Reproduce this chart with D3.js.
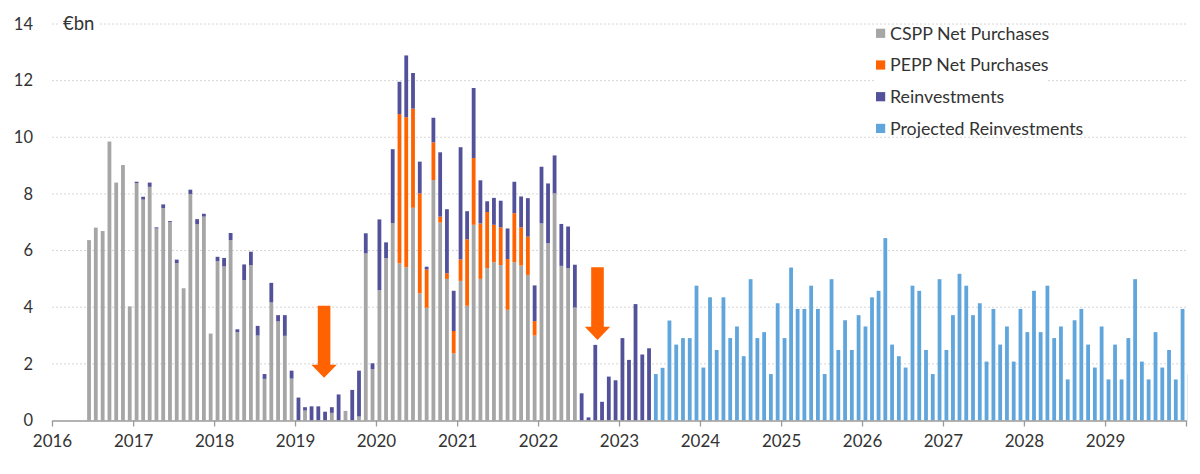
<!DOCTYPE html>
<html>
<head>
<meta charset="utf-8">
<script src="https://cdn.jsdelivr.net/npm/d3@7"></script>
<style>
  body { margin: 0; background: #fff; }
  svg { display: block; font-family: Lato, "Open Sans", sans-serif; }
</style>
</head>
<body>
<div id="chart"></div>
<script>
// monthly purchases, €bn - every series starts at its own month
const csppStart = "2016-06";
const csppNet = [
  6.37, 6.81, 6.69, 9.85, 8.40, 9.02, 4.03,                         // 2016 jun-dec
  8.38, 7.80, 8.25, 6.78, 7.50, 7.00, 5.56, 4.67, 8.00, 6.93, 7.20, 3.07, // 2017
  5.63, 5.44, 6.37, 3.12, 4.96, 5.49, 3.00, 1.47, 4.17, 3.50, 2.99, 1.48, // 2018
  0, 0.35, 0, 0, 0, 0.27, 0, 0.34, 0, 0.14, 5.90, 1.81,             // 2019
  4.60, 5.73, 6.97, 5.55, 5.41, 7.51, 4.49, 3.98, 8.49, 6.99, 5.00, 2.37, // 2020
  4.93, 4.05, 6.91, 5.00, 5.38, 5.59, 5.49, 3.91, 5.59, 5.47, 5.14, 3.00, // 2021
  6.96, 6.26, 8.02, 5.46, 5.38, 3.99                                // 2022 jan-jun
];

const peppStart = "2020-04";
const peppNet = [
  5.27, 5.30, 3.50, 3.53, 1.35, 1.33, 0.21, 0.20, 0.79,             // 2020 apr-dec
  0.76, 2.35, 2.36, 1.96, 1.98, 1.32, 1.33, 1.79, 1.73, 1.35, 1.35, 0.51  // 2021
];

const reinvStart = "2017-01";
const reinvestments = [
  0.05, 0.10, 0.15, 0.04, 0.13, 0.04, 0.12, 0, 0.15, 0.18, 0.10, 0,  // 2017
  0.15, 0.30, 0.25, 0.10, 0.55, 0.47, 0.34, 0.17, 0.69, 0.22, 0.73, 0.28, // 2018
  0.81, 0.12, 0.50, 0.50, 0.31, 0.20, 0.92, 0, 1.08, 1.62, 0.71, 0.21, // 2019
  2.50, 0.56, 2.61, 1.14, 2.18, 1.26, 1.12, 0.10, 0.87, 2.27, 2.26, 1.42, // 2020
  3.96, 0.99, 2.47, 1.52, 0.38, 0.95, 0.94, 1.08, 1.11, 1.09, 1.36, 1.26, // 2021
  2.00, 2.11, 1.34, 1.48, 1.47, 1.51, 0.96, 0.11, 2.67, 0.66, 1.55, 1.42, // 2022
  2.91, 2.14, 4.11, 2.33, 2.55                                      // 2023 jan-may
];

const projStart = "2023-06";
const projected = [
  1.64, 1.86, 3.53, 2.68, 2.91, 2.91, 4.76,                         // 2023 jun-dec
  1.87, 4.35, 2.49, 4.35, 2.91, 3.32, 2.27, 4.99, 2.91, 3.12, 1.64, 4.14, // 2024
  2.91, 5.40, 3.94, 3.94, 4.76, 3.94, 1.64, 4.99, 2.49, 3.54, 2.49, 3.72, // 2025
  3.32, 4.35, 4.58, 6.44, 2.68, 2.27, 1.87, 4.76, 4.58, 2.49, 1.64, 4.99, // 2026
  2.49, 3.72, 5.18, 4.76, 3.72, 4.14, 2.08, 3.94, 2.68, 3.32, 2.08, 3.94, // 2027
  3.12, 4.58, 3.12, 4.76, 2.91, 3.32, 1.45, 3.54, 3.94, 2.68, 1.87, 3.32, // 2028
  1.45, 2.68, 1.45, 2.91, 4.99, 2.08, 1.45, 3.12, 1.87, 2.49, 1.45, 3.94, // 2029
  1.64                                                              // 2030 jan
];

const seriesNames = ["CSPP Net Purchases", "PEPP Net Purchases", "Reinvestments", "Projected Reinvestments"];
const yTicks = [0, 2, 4, 6, 8, 10, 12, 14];
const xTickLabels = ["2016", "2017", "2018", "2019", "2020", "2021", "2022", "2023",
                     "2024", "2025", "2026", "2027", "2028", "2029", ""];
const unitLabel = "€bn";

// orange arrows: month position, top of shaft, start of head, tip (in €bn)
const arrows = [
  { at: "2019-05-12", top: 4.05, head: 1.97, tip: 1.51 },
  { at: "2022-09-26", top: 5.41, head: 3.31, tip: 2.84 }
];

const colors = ["#a6a6a6", "#ff6200", "#525199", "#60a6dc"];

const W = 1200, H = 474;
const plotLeft = 52, plotRight = 1186, plotTop = 24, plotBottom = 420.5;

const parseMonth = d3.timeParse("%Y-%m");
const months = d3.timeMonth.range(parseMonth("2016-06"), parseMonth("2030-02"));

const series = [[csppStart, csppNet], [peppStart, peppNet], [reinvStart, reinvestments], [projStart, projected]];
const keys = ["cspp", "pepp", "reinv", "proj"];

// one row per month, with 0 where a series does not run
const table = months.map(m => {
  let row = { month: m };
  series.forEach(([start, vals], i) => {
    let k = d3.timeMonth.count(parseMonth(start), m);
    row[keys[i]] = (k >= 0 && k < vals.length) ? vals[k] : 0;
  });
  return row;
});

const stacked = d3.stack().keys(keys)(table);

const x = d3.scaleTime()
  .domain([new Date(2016, 0, 1), new Date(2030, 0, 1)])
  .range([plotLeft, plotRight]);

const y = d3.scaleLinear()
  .domain([0, 14])
  .range([plotBottom, plotTop]);

const barW = 3.8;
const mid = m => (x(m) + x(d3.timeMonth.offset(m, 1))) / 2;

const svg = d3.select("#chart").append("svg")
  .attr("width", W)
  .attr("height", H);

svg.append("defs").append("clipPath").attr("id", "plot")
  .append("rect")
  .attr("x", plotLeft).attr("y", 0)
  .attr("width", plotRight - plotLeft + 1.5).attr("height", H);

// gridlines
svg.append("g")
  .selectAll("line")
  .data(yTicks.filter(d => d > 0))
  .enter().append("line")
  .attr("x1", plotLeft).attr("x2", plotRight)
  .attr("y1", d => y(d)).attr("y2", d => y(d))
  .attr("stroke", "#d6d6d6")
  .attr("stroke-width", 1)
  .attr("stroke-dasharray", "2,2");

// y labels
const yAxis = svg.append("g")
  .attr("transform", "translate(" + plotLeft + ",0)")
  .call(d3.axisLeft(y).tickValues(yTicks).tickSize(0).tickPadding(19));
yAxis.select(".domain").remove();
yAxis.selectAll("text")
  .attr("font-size", 16.5)
  .attr("font-family", "Lato, sans-serif")
  .attr("fill", "#333");

// unit label with white behind it so the top gridline stops
let unit = svg.append("g");
unit.append("rect")
  .attr("x", 60).attr("y", y(14) - 10).attr("width", 40).attr("height", 20)
  .attr("fill", "#fff");
unit.append("text")
  .attr("x", 63).attr("y", y(14)).attr("dy", "0.35em")
  .attr("font-size", 18.5).attr("fill", "#333")
  .text(unitLabel);

// bars
svg.append("g")
  .attr("clip-path", "url(#plot)")
  .selectAll("g")
  .data(stacked)
  .enter().append("g")
  .attr("fill", (d, i) => colors[i])
  .selectAll("rect")
  .data(d => d.filter(s => s[1] - s[0] > 0))
  .enter().append("rect")
  .attr("x", d => mid(d.data.month) - barW / 2)
  .attr("width", barW)
  .attr("y", d => y(d[1]))
  .attr("height", d => y(d[0]) - y(d[1]));

// x axis
const xAxis = svg.append("g")
  .attr("transform", "translate(0," + plotBottom + ")")
  .call(d3.axisBottom(x)
    .ticks(d3.timeYear.every(1))
    .tickFormat((d, i) => xTickLabels[i])
    .tickSize(6)
    .tickPadding(8)
    .tickSizeOuter(0));
xAxis.select(".domain").attr("stroke", "#9a9a9a").attr("stroke-width", 1.3);
xAxis.selectAll(".tick line").attr("stroke", "#9a9a9a").attr("stroke-width", 1.3);
xAxis.selectAll("text")
  .attr("font-size", 17)
  .attr("font-family", "Lato, sans-serif")
  .attr("fill", "#333");

// arrows
const shaft = 6.3, headHalf = 12.7;
svg.append("g")
  .selectAll("path")
  .data(arrows)
  .enter().append("path")
  .attr("fill", "#ff6200")
  .attr("d", a => {
    let cx = x(d3.timeParse("%Y-%m-%d")(a.at));
    return "M" + (cx - shaft) + "," + y(a.top)
      + "L" + (cx + shaft) + "," + y(a.top)
      + "L" + (cx + shaft) + "," + y(a.head)
      + "L" + (cx + headHalf) + "," + y(a.head)
      + "L" + cx + "," + y(a.tip)
      + "L" + (cx - headHalf) + "," + y(a.head)
      + "L" + (cx - shaft) + "," + y(a.head) + "Z";
  });

// legend
const legend = svg.append("g");
legend.append("rect")
  .attr("x", 875).attr("y", 27).attr("width", 172).attr("height", 106)
  .attr("fill", "#fff");
const item = legend.selectAll("g.item")
  .data(seriesNames)
  .enter().append("g")
  .attr("class", "item")
  .attr("transform", (d, i) => "translate(876," + (33.3 + i * 31.7) + ")");
item.append("rect")
  .attr("x", 0).attr("y", -4.6).attr("width", 9.2).attr("height", 9.2)
  .attr("fill", (d, i) => colors[i]);
item.append("text")
  .attr("x", 14).attr("dy", "0.35em")
  .attr("font-size", 17.8).attr("fill", "#333")
  .text(d => d);
</script>
</body>
</html>
